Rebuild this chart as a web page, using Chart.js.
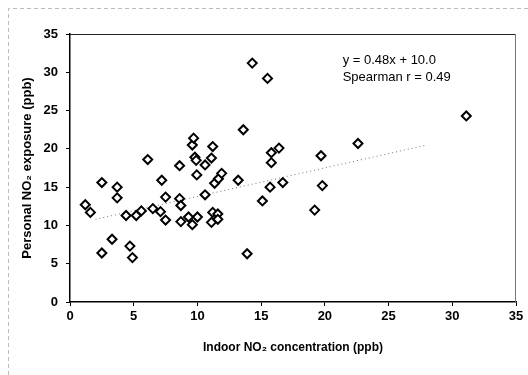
<!DOCTYPE html>
<html>
<head>
<meta charset="utf-8">
<script src="https://cdn.jsdelivr.net/npm/chart.js@4.4.1/dist/chart.umd.min.js"></script>
<style>body{margin:0;background:#fff}</style>
</head>
<body>
<canvas id="myChart" width="528" height="375"></canvas>
<script>
// indoor NO2 (x) and personal NO2 (y), ppb
const indoorNO2 = [
  1.2, 1.6, 2.5, 2.5, 3.3, 3.7, 3.7, 4.4, 4.7, 4.9,
  5.2, 5.6, 6.1, 6.5, 7.1, 7.2, 7.5, 7.5, 8.6, 8.6,
  8.7, 8.7, 9.3, 9.6, 9.6, 9.7, 9.8, 9.9, 9.95, 10.0,
  10.6, 10.6, 11.1, 11.2, 11.1, 11.2, 11.6, 11.6, 11.35, 11.65,
  11.9, 13.2, 13.6, 13.9, 14.3, 15.5, 15.1, 15.7, 15.8, 15.8,
  16.4, 16.7, 19.2, 19.7, 19.8, 22.6, 31.1
];
const personalNO2 = [
  12.7, 11.7, 15.6, 6.4, 8.2, 15.0, 13.6, 11.3, 7.3, 5.8,
  11.3, 11.9, 18.6, 12.2, 11.8, 15.9, 13.7, 10.7, 17.8, 13.5,
  12.6, 10.5, 11.1, 10.1, 20.5, 21.4, 18.9, 18.5, 16.6, 11.1,
  17.9, 14.0, 18.8, 20.3, 10.4, 11.7, 11.5, 10.8, 15.5, 16.1,
  16.8, 15.9, 22.5, 6.3, 31.2, 29.2, 13.2, 15.0, 19.5, 18.2,
  20.1, 15.6, 12.0, 19.1, 15.2, 20.7, 24.3
];
const trendX = [2.0, 28.0];
const trendY = [10.8, 20.5];
const axisMin = 0;
const axisMax = 35;
const axisStep = 5;
const noteLines = ['y = 0.48x + 10.0', 'Spearman r = 0.49'];
const noteX = 21.4;
const noteY = [31.6, 29.3];

const font = 'Liberation Sans, Arial, sans-serif';

const points = indoorNO2.map((x, i) => ({ x: x, y: personalNO2[i] }));
const trend = trendX.map((x, i) => ({ x: x, y: trendY[i] }));

const frame = {
  id: 'frame',
  beforeDraw(chart) {
    const c = chart.ctx;
    c.save();
    c.fillStyle = '#fff';
    c.fillRect(0, 0, chart.width, chart.height);
    c.strokeStyle = '#bbb';
    c.lineWidth = 1;
    c.setLineDash([4, 3]);
    c.beginPath();
    c.moveTo(8.5, chart.height);
    c.lineTo(8.5, 8.5);
    c.lineTo(chart.width, 8.5);
    c.stroke();
    c.restore();
  },
  beforeDatasetsDraw(chart) {
    const a = chart.chartArea;
    const c = chart.ctx;
    c.save();
    c.lineWidth = 1;
    c.strokeStyle = '#222';
    c.beginPath();
    c.moveTo(a.left, a.top + 0.5);
    c.lineTo(a.right, a.top + 0.5);
    c.stroke();
    c.strokeStyle = '#777';
    c.beginPath();
    c.moveTo(a.right - 0.5, a.top);
    c.lineTo(a.right - 0.5, a.bottom);
    c.stroke();
    c.restore();
  },
  afterDraw(chart) {
    const c = chart.ctx;
    const xs = chart.scales.x, ys = chart.scales.y;
    c.save();
    c.fillStyle = '#000';
    c.font = '13px ' + font;
    c.textBaseline = 'middle';
    noteLines.forEach((t, i) => {
      c.fillText(t, xs.getPixelForValue(noteX), ys.getPixelForValue(noteY[i]));
    });
    c.restore();
  }
};

const ctx = document.getElementById('myChart');
new Chart(ctx, {
  type: 'scatter',
  data: {
    datasets: [
      {
        data: points,
        pointStyle: 'rectRot',
        pointRadius: 4.5,
        pointBorderWidth: 2,
        pointBorderColor: '#000',
        pointBackgroundColor: '#fff',
        order: 1
      },
      {
        type: 'line',
        data: trend,
        showLine: true,
        borderColor: '#777',
        borderWidth: 1,
        borderDash: [1, 3],
        pointRadius: 0,
        fill: false,
        order: 2
      }
    ]
  },
  options: {
    responsive: false,
    animation: false,
    events: [],
    layout: { padding: { left: 0, right: 12, top: 34, bottom: 0 } },
    plugins: { legend: { display: false }, tooltip: { enabled: false } },
    scales: {
      x: {
        type: 'linear',
        min: axisMin,
        max: axisMax,
        afterFit(s) { s.height = 73; },
        ticks: { stepSize: axisStep, color: '#000', padding: 3, font: { family: font, size: 13, weight: 'bold' } },
        grid: { drawOnChartArea: false, drawTicks: true, tickLength: 4, color: '#000' },
        border: { display: true, color: '#000', width: 1.5 },
        title: {
          display: true,
          text: 'Indoor NO\u2082 concentration (ppb)',
          color: '#000',
          font: { family: font, size: 12, weight: 'bold' },
          padding: { top: 0, bottom: 20 }
        }
      },
      y: {
        type: 'linear',
        min: axisMin,
        max: axisMax,
        afterFit(s) { s.width = 70; },
        ticks: { stepSize: axisStep, color: '#000', padding: 8, font: { family: font, size: 13, weight: 'bold' } },
        grid: { drawOnChartArea: false, drawTicks: true, tickLength: 4, color: '#000' },
        border: { display: true, color: '#000', width: 1.5 },
        title: {
          display: true,
          text: 'Personal NO\u2082 exposure (ppb)',
          color: '#000',
          font: { family: font, size: 13, weight: 'bold' },
          padding: { top: 20, bottom: 0 }
        }
      }
    }
  },
  plugins: [frame]
});
</script>
</body>
</html>
